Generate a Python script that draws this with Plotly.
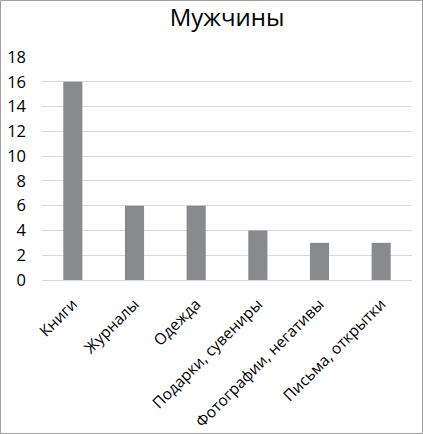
import plotly.graph_objects as go

# data
categories = ['Книги', 'Журналы', 'Одежда', 'Подарки, сувениры',
              'Фотографии, негативы', 'Письма, открытки']
counts = [16, 6, 6, 4, 3, 3]
y_ticks = [0, 2, 4, 6, 8, 10, 12, 14, 16, 18]

W, H = 423, 434
ml, mr, mt, mb = 42, 11, 57, 154
pw, ph = W - ml - mr, H - mt - mb

fig = go.Figure(go.Bar(x=categories, y=counts, marker_color='#898a8d',
                       marker_line_width=0, width=0.31))

# thin grey frame round the whole picture
fig.add_shape(type='rect', xref='paper', yref='paper',
              x0=(0.5 - ml) / pw, x1=(W - 0.5 - ml) / pw,
              y0=-(mb - 0.5) / ph, y1=1 + (mt - 0.5) / ph,
              line=dict(color='#a0a0a0', width=1))

fig.update_layout(
    width=W, height=H,
    margin=dict(l=ml, r=mr, t=mt, b=mb, autoexpand=False),
    paper_bgcolor='white', plot_bgcolor='white',
    font=dict(family='Open Sans', color='black'),
    title=dict(text='Мужчины', x=0.5, xanchor='center', xref='paper',
               y=1 - 18 / H, yanchor='middle', font=dict(size=24)),
    bargap=0.69,
    showlegend=False,
)
fig.update_xaxes(tickangle=-45, tickfont=dict(size=15.5), showline=True,
                 linecolor='#d9d9d9', ticks='', automargin=False,
                 ticklabelstandoff=8)
fig.update_yaxes(range=[0, 18], tickvals=y_ticks, tickfont=dict(size=16.5),
                 showgrid=True, gridcolor='#d9d9d9', zeroline=False, ticks='',
                 ticklabelstandoff=15, automargin=False)

# drop the page's default body margin so the chart sits at the corner
fig.write_html('out.html', config={'displayModeBar': False},
               post_script="document.body.style.margin='0';")
